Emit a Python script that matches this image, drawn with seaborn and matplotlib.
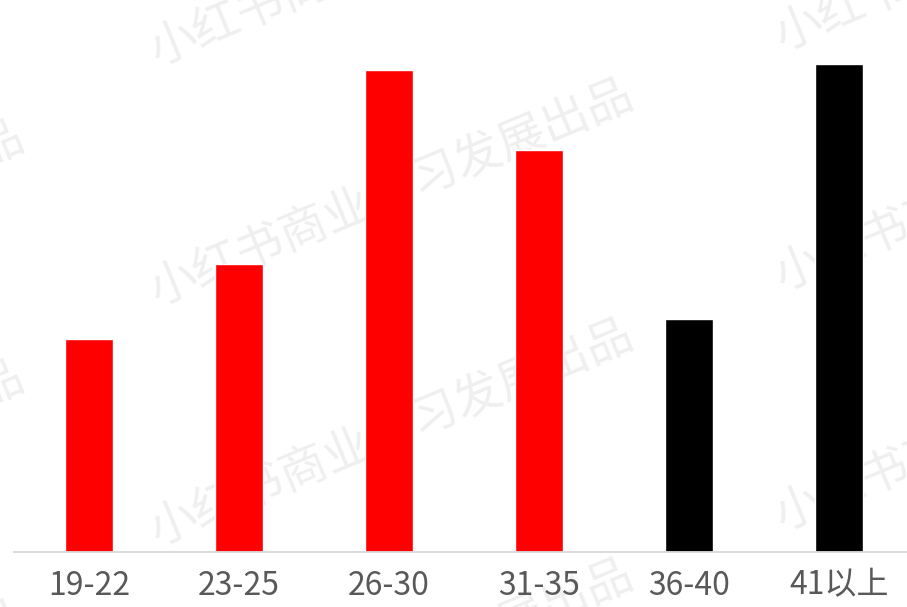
import matplotlib
matplotlib.use("Agg")
import matplotlib.pyplot as plt
import seaborn as sns
import pandas as pd

# Data
categories = ["19-22", "23-25", "26-30", "31-35", "36-40", "41以上"]
values = [21.25, 28.75, 48.15, 40.15, 23.3, 48.8]
bar_colors = ["#ff0000", "#ff0000", "#ff0000", "#ff0000", "#000000", "#000000"]
watermark = "小红书商业学习发展出品"

sns.set_theme(style="white")
plt.rcParams['font.family'] = ['Noto Sans CJK SC', 'DejaVu Sans']

W, H = 907, 607
fig = plt.figure(figsize=(W / 100, H / 100), dpi=100)
fig.patch.set_facecolor("white")

# axes: x from pixel 14 to 914, y from baseline 551.5 to top 0
base_px = 551.5
ax = fig.add_axes([14 / W, (H - base_px) / H, 900 / W, base_px / H])
ax.patch.set_alpha(0)

df = pd.DataFrame({"cat": categories, "val": values})
sns.barplot(data=df, x="cat", y="val", hue="cat", palette=bar_colors,
            legend=False, width=0.32, saturation=1, ax=ax, zorder=2)

ax.set_xlim(-0.5, 5.5)
ax.set_ylim(0, base_px / 10)
ax.set_xlabel("")
ax.set_ylabel("")
ax.set_yticks([])
for s in ["top", "right", "left"]:
    ax.spines[s].set_visible(False)
ax.spines["bottom"].set_color("#d9d9d9")
ax.spines["bottom"].set_linewidth(1.3)
ax.tick_params(axis="x", length=0, pad=13, labelsize=23, labelcolor="#595959")

# watermark (behind everything)
ang = 22.6
centers = [(392, -47), (392, 193), (392, 433), (392, 673),
           (1017, -62), (1017, 178), (1017, 418), (1017, 658),
           (-217, -5), (-217, 235), (-217, 475), (-217, 715)]
for cx, cy in centers:
    fig.text(cx / W, 1 - cy / H, watermark, rotation=ang, fontsize=34,
             color="#efefef", ha="center", va="center",
             rotation_mode="anchor", zorder=-5, fontweight="light")

fig.savefig("out.png", dpi=100, facecolor="white")
